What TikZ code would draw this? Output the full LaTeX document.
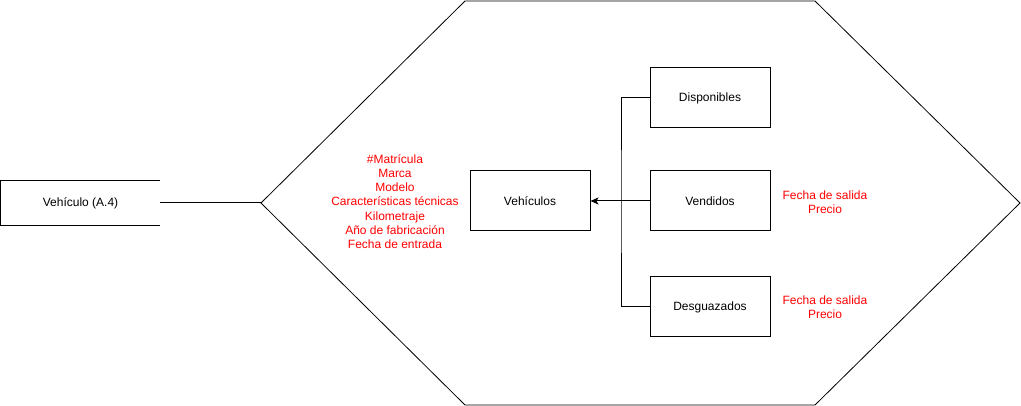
\documentclass[tikz,border=0pt]{standalone}
\usepackage{fontspec}
\setmainfont{Liberation Sans}
\usetikzlibrary{arrows.meta}
\tikzset{
    caja/.style={draw,line width=1pt,minimum width=120pt,minimum height=60pt},
    atributo/.style={text=red,align=center},
    linea/.style={line width=1pt}
}
\begin{document}
\begin{tikzpicture}[x=1pt,y=-1pt,font=\fontsize{12}{14.2}\selectfont]
    \useasboundingbox (0,0) rectangle (1021,406);

    % Hexagono
    \draw[line width=0.8pt] (261,203) coordinate (hexL) -- (465,1) -- (815,1) -- (1020,203) -- (815,405) -- (465,405) -- cycle;

    % Entidad externa
    \node[minimum width=159pt,minimum height=45pt,inner sep=0] (vehA) at (80.5,203) {Vehículo (A.4)};
    \draw[linea] (vehA.north east) -- (vehA.north west) -- (vehA.south west) -- (vehA.south east);
    \draw[linea] (vehA.east) -- (hexL);

    % Cajas
    \node[caja] (vehiculos) at (530,201) {Vehículos};
    \node[caja] (disponibles) at (710,98) {Disponibles};
    \node[caja] (vendidos) at (710,201) {Vendidos};
    \node[caja] (desguazados) at (710,307) {Desguazados};

    % Jerarquia
    \coordinate (bus) at (621,201);
    \draw[linea] (disponibles.west) -| (bus) |- (desguazados.west);
    \draw[linea,-{Stealth[length=8pt,width=7pt,inset=2pt]}] (vendidos.west) -- (vehiculos.east);

    % Atributos
    \node[atributo] (atrVeh) at (395,201.5) {\#Matrícula\\Marca\\Modelo\\Características técnicas\\Kilometraje\\Año de fabricación\\Fecha de entrada};
    \node[atributo] (atrVend) at (825,202) {Fecha de salida\\Precio};
    \node[atributo] (atrDesg) at (825,307) {Fecha de salida\\Precio};
\end{tikzpicture}
\end{document}
